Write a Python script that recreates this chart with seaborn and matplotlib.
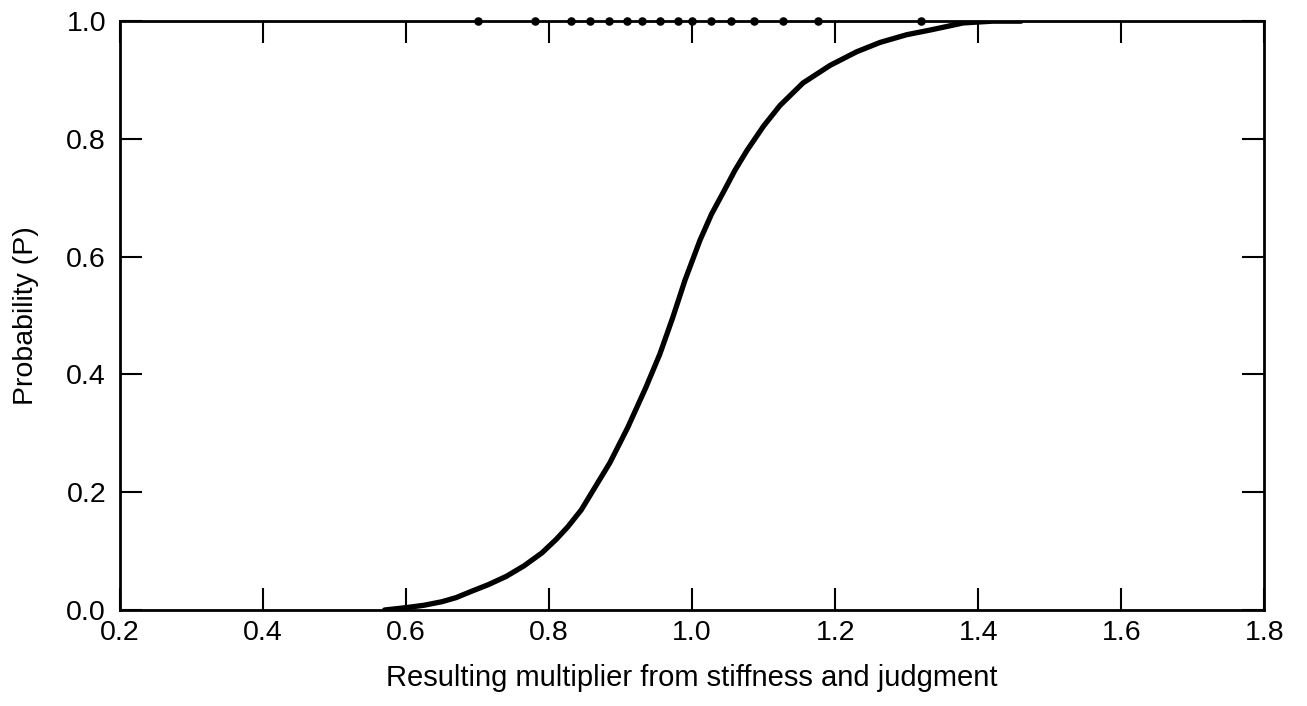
import matplotlib
matplotlib.use("Agg")
import matplotlib.pyplot as plt
import seaborn as sns
import pandas as pd

# Cumulative probability curve
curve_x = [0.57, 0.60, 0.625, 0.65, 0.67, 0.69, 0.715, 0.74, 0.765, 0.79, 0.81,
           0.826, 0.845, 0.862, 0.885, 0.91, 0.935, 0.955, 0.973, 0.99, 1.011,
           1.027, 1.043, 1.06, 1.077, 1.10, 1.123, 1.155, 1.193, 1.23, 1.263,
           1.30, 1.333, 1.36, 1.379, 1.42, 1.46]
curve_p = [0.0, 0.004, 0.008, 0.014, 0.021, 0.031, 0.043, 0.057, 0.075, 0.097, 0.12,
           0.141, 0.17, 0.204, 0.25, 0.31, 0.377, 0.435, 0.497, 0.56, 0.628,
           0.672, 0.708, 0.747, 0.781, 0.822, 0.857, 0.895, 0.925, 0.948, 0.964,
           0.977, 0.985, 0.992, 0.997, 1.0, 1.0]

# Sample points marked along P = 1.0
dots_x = [0.70, 0.78, 0.83, 0.857, 0.884, 0.909, 0.930, 0.955, 0.98, 1.00,
          1.027, 1.055, 1.086, 1.127, 1.176, 1.32]
dots_p = [1.0] * len(dots_x)

x_ticks = [0.2, 0.4, 0.6, 0.8, 1.0, 1.2, 1.4, 1.6, 1.8]
y_ticks = [0.0, 0.2, 0.4, 0.6, 0.8, 1.0]

sns.set_style("ticks")
plt.rcParams['font.family'] = ['Liberation Sans', 'DejaVu Sans']

fig = plt.figure(figsize=(13.07, 7.06), dpi=100)
ax = fig.add_axes([0.0918, 0.136, 0.8755, 0.834])

curve = pd.DataFrame({"x": curve_x, "p": curve_p})
dots = pd.DataFrame({"x": dots_x, "p": dots_p})

sns.lineplot(data=curve, x="x", y="p", ax=ax, color="black", linewidth=3.8,
             sort=False, estimator=None, solid_joinstyle="round", solid_capstyle="round")
sns.scatterplot(data=dots, x="x", y="p", ax=ax, color="black", s=38,
                edgecolor="black", linewidth=0, clip_on=False, zorder=5)

ax.set_xlim(0.2, 1.8)
ax.set_ylim(0.0, 1.0)
ax.set_xticks(x_ticks)
ax.set_yticks(y_ticks)
ax.set_xticklabels([f"{v:.1f}" for v in x_ticks], fontsize=20.5)
ax.set_yticklabels([f"{v:.1f}" for v in y_ticks], fontsize=20.5)
ax.tick_params(direction="in", length=16, width=1.5, top=True, right=True,
               color="black", labelcolor="black")
ax.tick_params(axis="x", pad=7)
ax.tick_params(axis="y", pad=10)
for sp in ax.spines.values():
    sp.set_visible(True)
    sp.set_linewidth(2.0)
    sp.set_color("black")

ax.set_xlabel("Resulting multiplier from stiffness and judgment", fontsize=21,
              labelpad=13, color="black")
ax.set_ylabel("Probability (P)", fontsize=20.5, labelpad=20, color="black")

fig.savefig("out.png", dpi=100, facecolor="white")
